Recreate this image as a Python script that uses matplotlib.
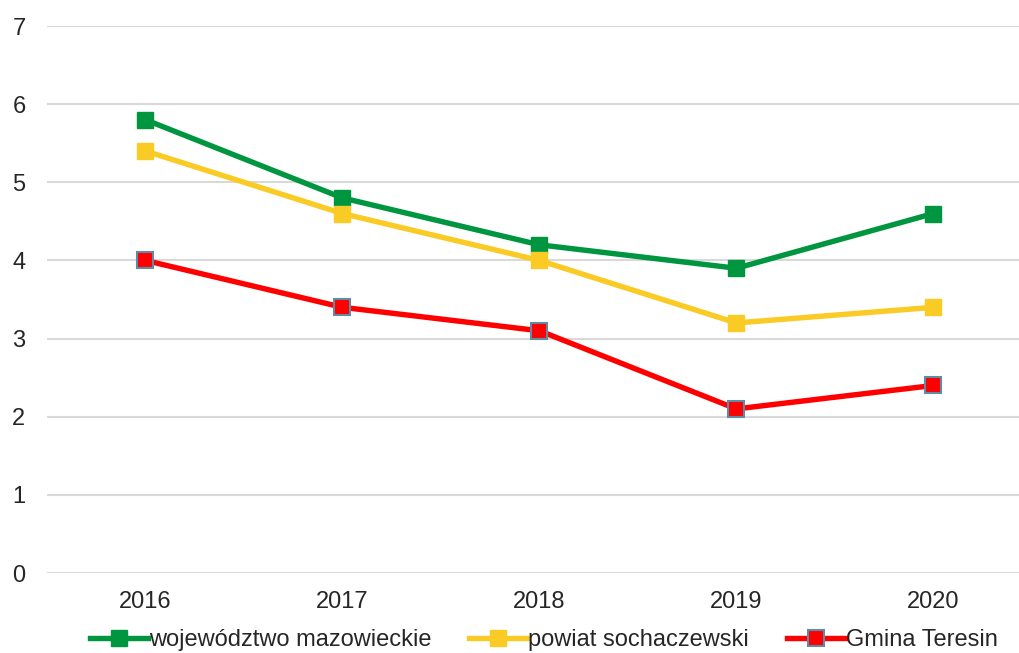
import matplotlib
matplotlib.use("Agg")
import matplotlib.pyplot as plt

years = ["2016", "2017", "2018", "2019", "2020"]
mazowieckie = [5.8, 4.8, 4.2, 3.9, 4.6]
sochaczewski = [5.4, 4.6, 4.0, 3.2, 3.4]
teresin = [4.0, 3.4, 3.1, 2.1, 2.4]
yticks = [0, 1, 2, 3, 4, 5, 6, 7]

plt.rcParams['font.family'] = ['Liberation Sans', 'DejaVu Sans']

fig = plt.figure(figsize=(10.2, 6.53), dpi=100)
ax = fig.add_axes([47/1020, 1-573/653, 1-47/1020, (573-26)/653])

x = list(range(len(years)))
ax.plot(x, mazowieckie, color='#00963F', lw=3.9, marker='s', ms=11,
        mfc='#00963F', mec='#00963F', label='województwo mazowieckie', zorder=3)
ax.plot(x, sochaczewski, color='#FACB24', lw=3.9, marker='s', ms=11,
        mfc='#FACB24', mec='#FACB24', label='powiat sochaczewski', zorder=3)
ax.plot(x, teresin, color='#FF0000', lw=3.9, marker='s', ms=11,
        mfc='#FF0000', mec='#5E8CA6', mew=1.5, label='Gmina Teresin', zorder=3)

ax.set_ylim(0, 7)
ax.set_yticks(yticks)
ax.set_xlim(-0.5, 4.44)
ax.set_xticks(x)
ax.set_xticklabels(years)
ax.grid(axis='y', color='#D9D9D9', lw=1.5)
ax.set_axisbelow(True)
for s in ax.spines.values():
    s.set_visible(False)
ax.tick_params(length=0, labelsize=17, colors='#262626')
ax.tick_params(axis='x', pad=13)
ax.tick_params(axis='y', pad=25)
for lab in ax.get_yticklabels():
    lab.set_horizontalalignment('left')

leg = fig.legend(loc='center left', bbox_to_anchor=(90/1020, 1-640/653), ncol=3, frameon=False,
                 fontsize=17, handlelength=2.45, handletextpad=0.05, columnspacing=1.6,
                 borderpad=0, borderaxespad=0)
for t in leg.get_texts():
    t.set_color('#262626')

fig.savefig('out.png', dpi=100)
